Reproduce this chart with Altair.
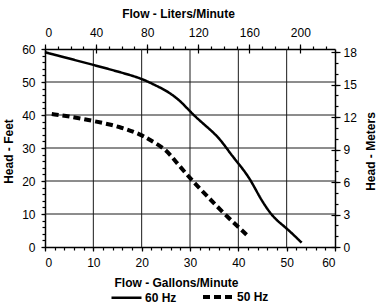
import altair as alt
import pandas as pd

# --- data ---
series = ["60 Hz", "50 Hz"]
gal_60 = [0, 5, 10, 15, 20, 22.8, 25, 27.9, 30, 33, 35.9, 38.3, 40.3, 42.4, 44.5, 46.6, 48, 50, 53.1]
ft_60 = [59, 57.1, 55.2, 53.2, 51.1, 49, 47.5, 44.5, 41, 37, 33.4, 28.4, 24.8, 20.8, 14.8, 10.2, 8, 5.7, 1.3]
gal_50 = [1.4, 5, 10, 15.5, 20, 21.7, 24.8, 27, 30, 33.5, 37.3, 41.8]
ft_50 = [40.3, 39.6, 38.2, 36.5, 34, 32.4, 29.9, 26, 20.8, 15.5, 9.7, 3.6]

gal_ticks = list(range(0, 61, 10))
gal_minor = list(range(0, 61, 2))
ft_ticks = list(range(0, 61, 10))
ft_minor = list(range(0, 61, 2))
lpm_ticks = list(range(0, 201, 40))
lpm_minor = list(range(0, 221, 10))
m_ticks = list(range(0, 19, 3))
m_minor = list(range(0, 19, 1))

GAL_TO_L = 3.78541
FT_TO_M = 0.3048

rows = []
for g, f in zip(gal_60, ft_60):
    rows.append({"gal": g, "ft": f, "series": series[0]})
for g, f in zip(gal_50, ft_50):
    rows.append({"gal": g, "ft": f, "series": series[1]})
df = pd.DataFrame(rows)
df["lpm"] = df["gal"] * GAL_TO_L
df["m"] = df["ft"] * FT_TO_M

FONT = "Liberation Sans"
GRID = "#1a1a1a"

xg = alt.Scale(domain=[0, 60], nice=False, zero=False)
yf = alt.Scale(domain=[0, 60], nice=False, zero=False)
xl = alt.Scale(domain=[0, 60 * GAL_TO_L], nice=False, zero=False)
ym = alt.Scale(domain=[0, 60 * FT_TO_M], nice=False, zero=False)

vgrid = alt.Chart(pd.DataFrame({"gal": gal_ticks[1:-1]})).mark_rule(
    color=GRID, strokeWidth=1).encode(x=alt.X("gal:Q", scale=xg, axis=None))
hgrid = alt.Chart(pd.DataFrame({"ft": ft_ticks[1:-1]})).mark_rule(
    color=GRID, strokeWidth=1).encode(y=alt.Y("ft:Q", scale=yf, axis=None))

lines = alt.Chart(df).mark_line(color="black", strokeCap="butt", interpolate="basis").encode(
    x=alt.X("gal:Q", scale=xg, axis=alt.Axis(
        orient="bottom", values=gal_ticks, grid=False, title="Flow - Gallons/Minute",
        tickSize=4, labelPadding=6, titlePadding=9, titleX=131)),
    y=alt.Y("ft:Q", scale=yf, axis=alt.Axis(
        orient="left", values=ft_ticks, grid=False, title="Head - Feet",
        tickSize=4, labelPadding=6, titleX=-37, titleY=102, titleAngle=270,
        titleAlign="center", titleBaseline="middle")),
    strokeDash=alt.StrokeDash("series:N", scale=alt.Scale(domain=series, range=[[1, 0], [7, 4]]),
        legend=alt.Legend(orient="none", legendX=65, legendY=231, direction="horizontal",
                          title=None, symbolType="stroke", symbolSize=900, symbolStrokeWidth=2.5,
                          symbolStrokeColor="black", labelFontSize=12, labelFontWeight="bold",
                          labelFont=FONT, labelColor="black", labelOffset=2, columnPadding=18)),
    strokeWidth=alt.StrokeWidth("series:N", scale=alt.Scale(domain=series, range=[2.5, 4]), legend=None),
)

minor = alt.Chart(df).mark_point(opacity=0).encode(
    x=alt.X("gal:Q", scale=xg, axis=alt.Axis(
        orient="bottom", values=gal_minor, labels=False, grid=False, domain=False,
        title=None, tickSize=3)),
    y=alt.Y("ft:Q", scale=yf, axis=alt.Axis(
        orient="left", values=ft_minor, labels=False, grid=False, domain=False,
        title=None, tickSize=3)),
)

top = alt.Chart(df).mark_point(opacity=0).encode(
    x=alt.X("lpm:Q", scale=xl, axis=alt.Axis(
        orient="top", values=lpm_ticks, grid=False, title="Flow - Liters/Minute",
        tickSize=5, labelPadding=5, titlePadding=6, titleX=133)),
    y=alt.Y("m:Q", scale=ym, axis=alt.Axis(
        orient="right", values=m_ticks, grid=False, title="Head - Meters",
        tickSize=5, labelPadding=3, titleX=35, titleY=102, titleAngle=270,
        titleAlign="center", titleBaseline="middle")),
)

top_minor = alt.Chart(df).mark_point(opacity=0).encode(
    x=alt.X("lpm:Q", scale=xl, axis=alt.Axis(
        orient="top", values=lpm_minor, labels=False, grid=False, domain=False,
        title=None, tickSize=3)),
    y=alt.Y("m:Q", scale=ym, axis=alt.Axis(
        orient="right", values=m_minor, labels=False, grid=False, domain=False,
        title=None, tickSize=3)),
)

top_in = alt.Chart(df).mark_point(opacity=0).encode(
    x=alt.X("lpm:Q", scale=xl, axis=alt.Axis(
        orient="top", values=lpm_ticks, labels=False, grid=False, domain=False,
        title=None, tickSize=4, offset=-4)),
    y=alt.Y("m:Q", scale=ym, axis=alt.Axis(
        orient="right", values=m_ticks, labels=False, grid=False, domain=False,
        title=None, tickSize=4, offset=-4)),
)

chart = alt.layer(vgrid, hgrid, lines, minor, top, top_minor, top_in).resolve_scale(
    x="independent", y="independent"
).properties(
    width=290, height=198,
    autosize=alt.AutoSizeParams(type="none"),
    padding={"left": 45, "top": 49, "right": 42, "bottom": 58},
    background="white",
).configure_view(stroke=None).configure_axis(
    labelFont=FONT, labelFontSize=12, labelColor="black",
    titleFont=FONT, titleFontSize=12, titleFontWeight="bold", titleColor="black",
    tickColor="black", domainColor="black", domainWidth=1.5, tickWidth=1.2,
)

chart.save("out.html", embed_options={"renderer": "svg", "actions": False})
